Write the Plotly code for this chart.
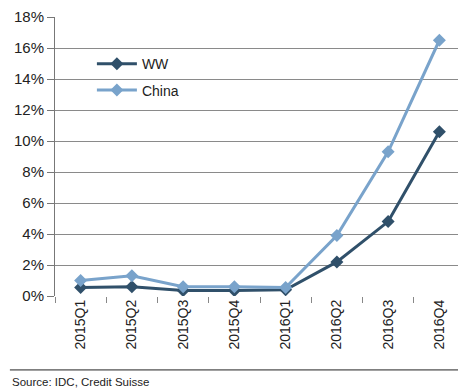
import plotly.graph_objects as go

quarters = ["2015Q1", "2015Q2", "2015Q3", "2015Q4", "2016Q1", "2016Q2", "2016Q3", "2016Q4"]
ww = [0.55, 0.6, 0.35, 0.35, 0.4, 2.2, 4.8, 10.6]
china = [1.0, 1.3, 0.6, 0.6, 0.55, 3.9, 9.3, 16.5]
y_ticks = [0, 2, 4, 6, 8, 10, 12, 14, 16, 18]

WW_COLOR = "#30506A"
CHINA_COLOR = "#79A3CB"

fig = go.Figure()
fig.add_trace(go.Scatter(x=quarters, y=ww, name="WW", mode="lines+markers",
                         legendgroup="a",
                         line=dict(color=WW_COLOR, width=3),
                         marker=dict(symbol="diamond", size=10, color=WW_COLOR)))
fig.add_trace(go.Scatter(x=quarters, y=china, name="China", mode="lines+markers",
                         legendgroup="b",
                         line=dict(color=CHINA_COLOR, width=3),
                         marker=dict(symbol="diamond", size=10, color=CHINA_COLOR)))

# page body has an 8px margin, so the figure is drawn at (8, 8)
fig.update_layout(
    width=458, height=380,
    margin=dict(l=47, r=1, t=9, b=92),
    paper_bgcolor="white", plot_bgcolor="white",
    font=dict(family="Liberation Sans, Arial, sans-serif", size=14, color="#222"),
    showlegend=True,
    legend=dict(x=0.09, y=0.888, xanchor="left", yanchor="top",
                bgcolor="rgba(0,0,0,0)", font=dict(size=14, color="#222"),
                itemwidth=40, tracegroupgap=5),
    xaxis=dict(type="category", tickangle=-90, tickson="boundaries",
               ticks="outside", ticklen=6, tickcolor="#888",
               showgrid=False, showline=False, zeroline=False,
               range=[-0.5, 7.5], tickfont=dict(size=14)),
    yaxis=dict(range=[0, 18], tickvals=y_ticks,
               ticktext=[f"{v}%" for v in y_ticks],
               showgrid=True, gridcolor="#8a8a8a", gridwidth=1,
               showline=True, linecolor="#777", linewidth=1,
               ticks="outside", ticklen=7, tickcolor="#777",
               zeroline=False, tickfont=dict(size=15)),
    shapes=[dict(type="line", xref="paper", yref="paper",
                 x0=-0.11, x1=1.0, y0=-0.265, y1=-0.265,
                 line=dict(color="#222", width=1))],
    annotations=[dict(text="Source: IDC, Credit Suisse", xref="paper", yref="paper",
                      x=-0.11, y=-0.28, xanchor="left", yanchor="top",
                      showarrow=False, font=dict(size=11.5, color="#222"))],
)

fig.write_html("out.html")
